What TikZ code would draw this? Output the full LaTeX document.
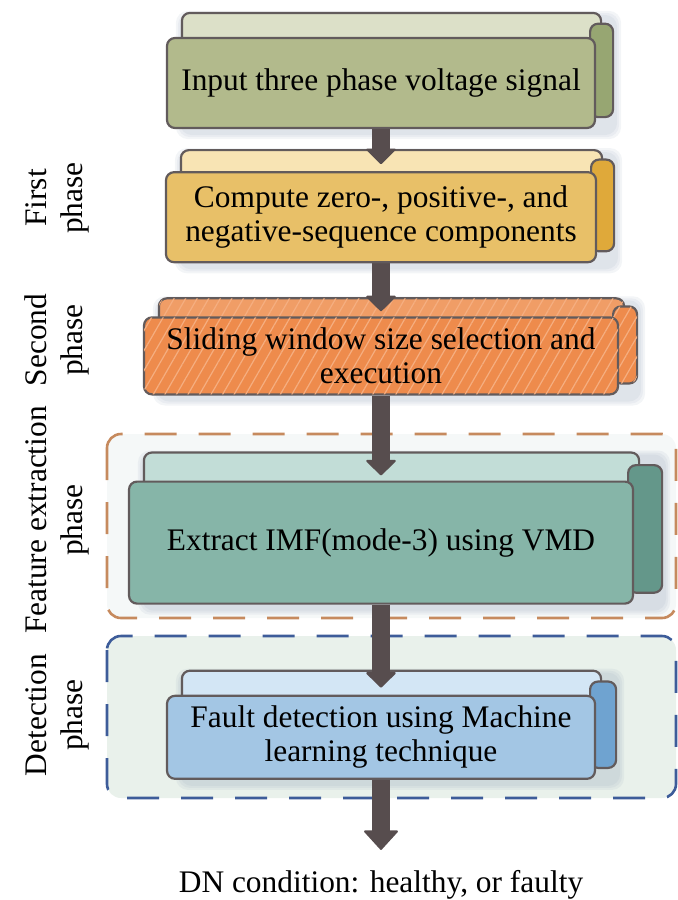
\documentclass[tikz,border=0pt]{standalone}
\usepackage{fontspec}
\setmainfont{Liberation Serif}
\usetikzlibrary{positioning, arrows.meta, calc, patterns.meta}
\definecolor{inpF}{HTML}{B2BA8C}
\definecolor{inpB}{HTML}{DCE0C8}
\definecolor{inpS}{HTML}{97A672}
\definecolor{seqF}{HTML}{E8C068}
\definecolor{seqB}{HTML}{F8E4B4}
\definecolor{seqS}{HTML}{DFA93A}
\definecolor{winF}{HTML}{EE8B4C}
\definecolor{winB}{HTML}{F09D66}
\definecolor{winS}{HTML}{EE8B4C}
\definecolor{winH}{HTML}{F5AE80}
\definecolor{imfF}{HTML}{86B5A8}
\definecolor{imfB}{HTML}{C2DDD7}
\definecolor{imfS}{HTML}{64978A}
\definecolor{detF}{HTML}{A3C6E4}
\definecolor{detB}{HTML}{D3E6F5}
\definecolor{detS}{HTML}{6FA3D0}
\definecolor{edge}{HTML}{625B5C}
\definecolor{stem}{HTML}{574D4E}
\definecolor{featc}{HTML}{C68A5E}
\definecolor{featfill}{HTML}{F5F8F8}
\definecolor{detc}{HTML}{3D5C99}
\definecolor{detfill}{HTML}{E9F1EB}
\definecolor{shade}{HTML}{8C9CB4}
\pgfdeclarelayer{frames}
\pgfdeclarelayer{panels}
\pgfsetlayers{frames,panels,main}
\tikzset{
  stepbox/.style={draw=edge, line width=1.1pt, rounded corners=4pt, align=center,
                  inner sep=0pt, text=black, font=\fontsize{15.7}{17}\selectfont},
  panel/.style={draw=edge, line width=1.1pt, rounded corners=4pt},
  hatch/.style={postaction={pattern={Lines[angle=60,distance=5pt,line width=0.6pt]},
                pattern color=winH}},
  nohatch/.style={},
  flow/.style={draw=stem, line width=9pt,
               -{Triangle[length=8pt,width=16pt,line width=1pt,round]}},
  lastflow/.style={draw=stem, line width=9pt,
               -{Triangle[length=10pt,width=18pt,line width=1pt,round]}},
  phaselbl/.style={rotate=90, align=center, inner sep=0pt, text=black,
                   font=\fontsize{15.7}{18}\selectfont},
  phaseframe/.style={dash pattern=on 16pt off 11pt, line width=1.3pt, rounded corners=7pt},
  soft/.style={fill=shade, fill opacity=0.1, draw=none},
}
\begin{document}
\begin{tikzpicture}[x=0.5pt, y=-0.5pt]
  \useasboundingbox (0,0) rectangle (678,900);
  % front boxes
  \node[stepbox, fill=inpF, minimum width=214pt, minimum height=45pt] (inp) at (381,83)
    {Input three phase voltage signal};
  \node[stepbox, fill=seqF, minimum width=215pt, minimum height=45pt, below=21pt of inp] (seq)
    {Compute zero-, positive-, and\\negative-sequence components};
  \node[stepbox, fill=winF, hatch, minimum width=237pt, minimum height=38.5pt, below=26.5pt of seq] (win)
    {Sliding window size selection and\\execution};
  \node[stepbox, fill=imfF, minimum width=252pt, minimum height=61pt, below=42.5pt of win] (imf)
    {Extract IMF(mode-3) using VMD};
  \node[stepbox, fill=detF, minimum width=214pt, minimum height=41.5pt, below=45pt of imf] (det)
    {Fault detection using Machine\\learning technique};
  \node[below=45pt of det, inner sep=0pt, font=\fontsize{15.7}{17}\selectfont] (res)
    {DN condition: healthy, or faulty};
  % phase labels
  \node[phaselbl] (lab1) at (57,198) {First\\phase};
  \node[phaselbl] (lab2) at (57,340) {Second\\phase};
  \node[phaselbl] (lab3) at (57,520) {Feature extraction\\phase};
  \node[phaselbl] (lab4) at (57,715) {Detection\\phase};
  % dashed phase frames
  \begin{pgfonlayer}{frames}
    \draw[phaseframe, draw=featc, fill=featfill] (107,434) rectangle (676,618);
    \draw[phaseframe, draw=detc, fill=detfill] (107,636) rectangle (676,798);
  \end{pgfonlayer}
  % back and side panels, then connectors
  \begin{pgfonlayer}{panels}
    \foreach \n/\d/\s/\h in {inp/12/8.5/nohatch, seq/10.5/8.5/nohatch, win/9/9/hatch,
                             imf/14/14/nohatch, det/12/10/nohatch} {
      \foreach \g in {1,2,3}
        \path[soft, rounded corners=6pt] ($(\n.north west)+(8pt-\g pt,\d pt+\g pt-2pt)$)
          rectangle ($(\n.south east)+(\s pt+\g pt+1pt,-\g pt-2pt)$);
      \draw[panel, fill=\n B, \h] ($(\n.north west)+(8pt,\d pt)$)
        rectangle ($(\n.north east)+(2.5pt,-10pt)$);
      \draw[panel, fill=\n S, \h] ($(\n.north east)+(-3pt,0.55*\d pt)$)
        rectangle ($(\n.south east)+(\s pt,6pt)$);
    }
    \draw[flow] (inp.south) -- ($(seq.north)+(0,3.5pt)$);
    \draw[flow] (seq.south) -- ($(win.north)+(0,2.5pt)$);
    \draw[flow] (win.south) -- ($(imf.north)+(0,2.5pt)$);
    \draw[flow] (imf.south) -- ($(det.north)+(0,3.5pt)$);
    \draw[lastflow, shorten >=10pt] (det.south) -- (res.north);
  \end{pgfonlayer}
\end{tikzpicture}
\end{document}
